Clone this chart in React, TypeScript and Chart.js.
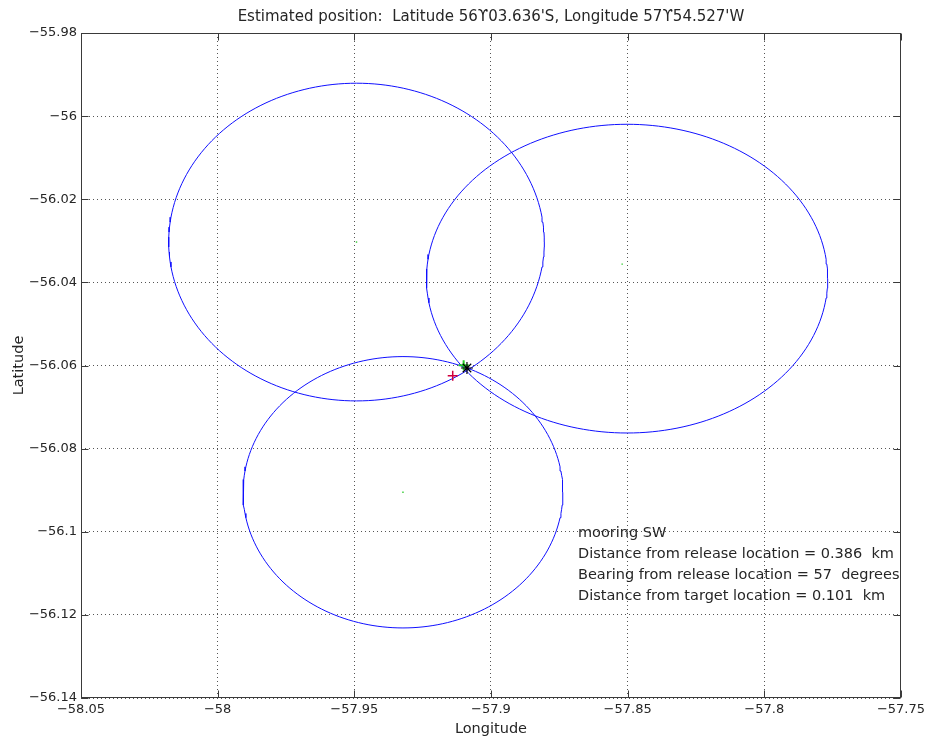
import React, { useEffect, useRef } from "react";
import { Chart, registerables } from "chart.js";

Chart.register(...registerables);

// Axis ticks
const xTickValues = [-58.05, -58, -57.95, -57.9, -57.85, -57.8, -57.75];
const yTickValues = [-56.14, -56.12, -56.1, -56.08, -56.06, -56.04, -56.02, -56, -55.98];

// Ship ranging stations (lon, lat)
const stationLon = [-57.9492, -57.852, -57.9322];
const stationLat = [-56.0303, -56.0356, -56.0905];

// Range rings: centre and east-west / north-south radii (km)
const ringLon = [-57.9492, -57.8502, -57.9322];
const ringLat = [-56.0303, -56.0391, -56.0905];
const ringRadiusEW = [4.27, 4.56, 3.63];
const ringRadiusNS = [4.25, 4.13, 3.63];

// Triangulated mooring position (degrees + decimal minutes)
const estimateLatDeg = 56;
const estimateLatMin = 3.636;
const estimateLonDeg = 57;
const estimateLonMin = 54.527;

// Release (deployment) location is given relative to the estimate
const releaseDistanceKm = 0.386;
const releaseBearingDeg = 57;

// Target location
const targetLon = -57.91;
const targetLat = -56.05995;
const targetDistanceKm = 0.101;

const KM_PER_DEG = 111.2;

const estimateLon = -(estimateLonDeg + estimateLonMin / 60);
const estimateLat = -(estimateLatDeg + estimateLatMin / 60);

function kmPerDegLon(lat: number) {
  return KM_PER_DEG * Math.cos((lat * Math.PI) / 180);
}

const releaseLon =
  estimateLon -
  (releaseDistanceKm * Math.sin((releaseBearingDeg * Math.PI) / 180)) / kmPerDegLon(estimateLat);
const releaseLat =
  estimateLat - (releaseDistanceKm * Math.cos((releaseBearingDeg * Math.PI) / 180)) / KM_PER_DEG;

function rangeRing(lon: number, lat: number, rEW: number, rNS: number) {
  const pts: { x: number; y: number }[] = [];
  const n = 200;
  for (let i = 0; i <= n; i++) {
    const t = (i / n) * 2 * Math.PI;
    pts.push({
      x: lon + (rEW * Math.cos(t)) / kmPerDegLon(lat),
      y: lat + (rNS * Math.sin(t)) / KM_PER_DEG,
    });
  }
  return pts;
}

const FONT = "'DejaVu Sans', Verdana, sans-serif";
const TEXT = "#262626";

const fmt = (v: number) => {
  const s = String(Number(v.toFixed(2)));
  return s.startsWith("-") ? "\u2212" + s.slice(1) : s;
};

const titleText =
  `Estimated position:  Latitude ${estimateLatDeg}\u03d2${estimateLatMin.toFixed(3).padStart(6, "0")}'S, ` +
  `Longitude ${estimateLonDeg}\u03d2${estimateLonMin.toFixed(3)}'W`;

const noteLines = [
  "mooring SW",
  `Distance from release location = ${releaseDistanceKm.toFixed(3)}  km`,
  `Bearing from release location = ${releaseBearingDeg}  degrees`,
  `Distance from target location = ${targetDistanceKm.toFixed(3)}  km`,
];

const framePlugin = {
  id: "frame",
  afterDatasetsDraw(chart: any) {
    const { ctx, chartArea: a } = chart;
    // annotation text sits inside the axes, clipped by them
    ctx.save();
    ctx.beginPath();
    ctx.rect(a.left, a.top, a.right - a.left, a.bottom - a.top);
    ctx.clip();
    ctx.fillStyle = TEXT;
    ctx.textAlign = "left";
    ctx.textBaseline = "middle";
    ctx.font = `14.5px ${FONT}`;
    noteLines.forEach((line, i) => {
      ctx.fillText(line, 578, 533 + i * 21);
    });
    ctx.restore();
  },
  afterDraw(chart: any) {
    const { ctx, chartArea: a, scales } = chart;
    const xs = scales.x;
    const ys = scales.y;
    ctx.save();
    ctx.strokeStyle = "#3a3a3a";
    ctx.lineWidth = 1;
    const L = Math.round(a.left) + 0.5;
    const R = Math.round(a.right) - 0.5;
    const T = Math.round(a.top) + 0.5;
    const B = Math.round(a.bottom) - 0.5;
    ctx.strokeRect(L, T, R - L, B - T);
    const len = 7;
    ctx.beginPath();
    for (const v of xTickValues) {
      const px = Math.round(xs.getPixelForValue(v)) + 0.5;
      ctx.moveTo(px, B);
      ctx.lineTo(px, B - len);
      ctx.moveTo(px, T);
      ctx.lineTo(px, T + len);
    }
    for (const v of yTickValues) {
      const py = Math.round(ys.getPixelForValue(v)) + 0.5;
      ctx.moveTo(L, py);
      ctx.lineTo(L + len, py);
      ctx.moveTo(R, py);
      ctx.lineTo(R - len, py);
    }
    ctx.stroke();

    ctx.fillStyle = TEXT;
    ctx.font = `15px ${FONT}`;
    ctx.textAlign = "center";
    ctx.textBaseline = "middle";
    const cx = (a.left + a.right) / 2;
    ctx.fillText(titleText, cx, 17);
    ctx.font = `14.5px ${FONT}`;
    ctx.fillText("Longitude", cx, 729);
    ctx.save();
    ctx.translate(19, (a.top + a.bottom) / 2);
    ctx.rotate(-Math.PI / 2);
    ctx.fillText("Latitude", 0, 0);
    ctx.restore();
    ctx.restore();
  },
};

export default function App() {
  const ref = useRef<HTMLCanvasElement | null>(null);

  useEffect(() => {
    if (!ref.current) return;
    const rings = ringLon.map((lon, i) => ({
      data: rangeRing(lon, ringLat[i], ringRadiusEW[i], ringRadiusNS[i]),
      showLine: true,
      borderColor: "#1010ff",
      borderWidth: 1,
      pointRadius: 0,
      tension: 0,
      order: 5,
    }));

    const chart = new Chart(ref.current, {
      type: "scatter",
      data: {
        datasets: [
          ...rings,
          {
            data: stationLon.map((x, i) => ({ x, y: stationLat[i] })),
            pointStyle: "rect",
            pointRadius: 1,
            backgroundColor: "#33cc33",
            borderColor: "#33cc33",
            borderWidth: 0,
            order: 4,
          },
          {
            data: [{ x: releaseLon, y: releaseLat }],
            pointStyle: "cross",
            pointRadius: 5,
            borderColor: "#d0003c",
            borderWidth: 1.5,
            order: 3,
          },
          {
            data: [{ x: targetLon, y: targetLat }],
            pointStyle: "cross",
            pointRadius: 5,
            borderColor: "#22cc22",
            borderWidth: 2,
            order: 2,
          },
          {
            data: [{ x: estimateLon, y: estimateLat }],
            pointStyle: "star",
            pointRadius: 6,
            borderColor: "#000000",
            borderWidth: 1.2,
            order: 1,
          },
        ] as any,
      },
      options: {
        animation: false,
        responsive: false,
        devicePixelRatio: 1,
        events: [],
        layout: { padding: { top: 33, right: 21, left: 0, bottom: 0 } },
        plugins: {
          legend: { display: false },
          tooltip: { enabled: false },
          title: { display: false },
        },
        scales: {
          x: {
            type: "linear",
            min: xTickValues[0],
            max: xTickValues[xTickValues.length - 1],
            afterBuildTicks: (s: any) => {
              s.ticks = xTickValues.map((value) => ({ value }));
            },
            afterFit: (s: any) => {
              s.height = 42;
            },
            grid: { color: "#555555", lineWidth: 1, drawTicks: false },
            border: { display: false, dash: [1, 3] },
            ticks: {
              padding: 4,
              color: TEXT,
              font: { family: FONT, size: 13 },
              maxRotation: 0,
              autoSkip: false,
              callback: (v: any) => fmt(Number(v)),
            },
          },
          y: {
            type: "linear",
            min: yTickValues[0],
            max: yTickValues[yTickValues.length - 1],
            afterBuildTicks: (s: any) => {
              s.ticks = yTickValues.map((value) => ({ value }));
            },
            afterFit: (s: any) => {
              s.width = 81;
            },
            grid: { color: "#555555", lineWidth: 1, drawTicks: false },
            border: { display: false, dash: [1, 3] },
            ticks: {
              padding: 4,
              color: TEXT,
              font: { family: FONT, size: 13 },
              autoSkip: false,
              callback: (v: any) => fmt(Number(v)),
            },
          },
        },
      },
      plugins: [framePlugin],
    });
    return () => chart.destroy();
  }, []);

  return (
    <div style={{ position: "fixed", left: 0, top: 0, width: 929, height: 740, background: "#fff" }}>
      <canvas ref={ref} width={929} height={740} style={{ width: 929, height: 740, display: "block" }} />
    </div>
  );
}
